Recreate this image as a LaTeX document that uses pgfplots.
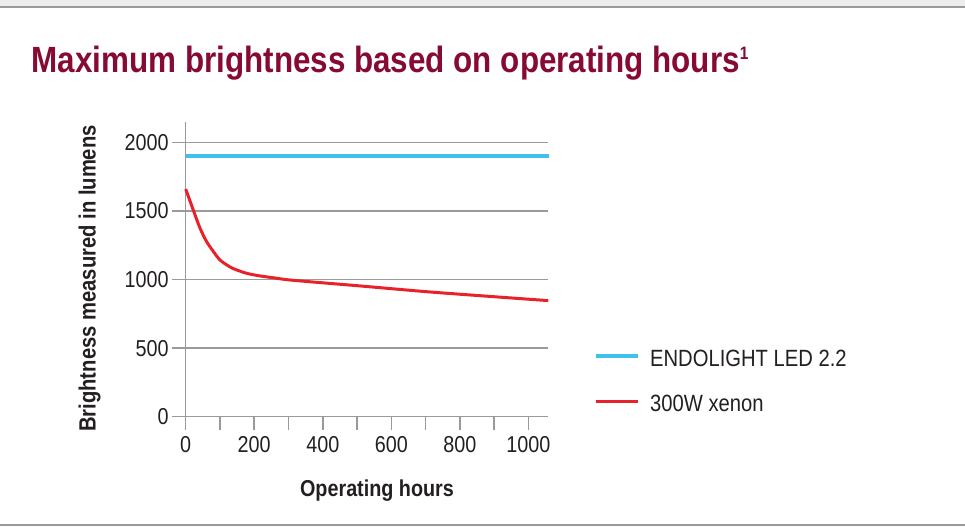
\documentclass[border=0pt]{standalone}
\usepackage{fontspec}
\setmainfont{Liberation Sans}[FakeStretch=0.86]
\usepackage{pgfplots}
\pgfplotsset{compat=1.18}
\definecolor{titlered}{HTML}{870A33}
\definecolor{ledblue}{HTML}{40C0EC}
\definecolor{xenonred}{HTML}{E8212B}
\definecolor{gridgray}{HTML}{9A9A9A}
\definecolor{txt}{HTML}{231F20}
\begin{document}
\begin{tikzpicture}
\useasboundingbox (0pt,0pt) rectangle (965pt,-529pt);
\fill[black!7] (0pt,0pt) rectangle (965pt,-6.3pt);
\draw[gridgray, line width=1.5pt] (0pt,-7pt) -- (965pt,-7pt);
\draw[gridgray, line width=1.8pt] (0pt,-525pt) -- (965pt,-525pt);
\node[anchor=base west, inner sep=0pt, text=titlered, font=\fontsize{36.5}{40}\selectfont\bfseries] at (31.5pt,-72.3pt)
  {Maximum brightness based on operating hours\raisebox{12.8pt}{\fontsize{18}{20}\selectfont 1}};
\begin{axis}[
  at={(185.7pt,-416.7pt)}, anchor=south west,
  scale only axis, width=362.6pt, height=295pt,
  xmin=0, xmax=1058, ymin=0, ymax=2150,
  axis lines*=left,
  axis line style={draw=gridgray, line width=1.5pt},
  xtick={0,200,...,1000}, minor xtick={100,300,...,900},
  ytick={0,500,...,2000},
  tick align=outside, major tick length=13.5pt, minor tick length=13.5pt,
  every tick/.style={draw=gridgray, line width=1.5pt},
  every minor tick/.style={draw=gridgray, line width=1.5pt},
  ymajorgrids,
  major grid style={draw=gridgray, line width=1.5pt},
  /pgf/number format/assume math mode=true,
  /pgf/number format/1000 sep={},
  ticklabel style={font=\fontsize{23}{26}\selectfont, text=txt},
  xticklabel style={yshift=-3pt},
  every axis y label/.style={at={(axis description cs:-0.2482,0.4685)}, rotate=90, anchor=base, inner sep=0pt, font=\fontsize{23.5}{26}\selectfont\bfseries, text=txt},
  every axis x label/.style={at={(axis description cs:0.5276,-0.2688)}, anchor=base, inner sep=0pt, font=\fontsize{23}{26}\selectfont\bfseries, text=txt},
  ylabel={Brightness measured in lumens},
  xlabel={Operating hours},
  legend style={at={(axis description cs:1.1265,0.2305)}, anchor=north west, draw=none, fill=none, inner sep=0pt, outer sep=0pt,
    font=\fontsize{23.5}{26}\selectfont, text=txt,
    nodes={inner sep=0pt, text height=17.6pt, text depth=0pt},
    row sep=27.6pt,
    /tikz/every odd column/.append style={column sep=10.5pt}},
  legend cell align=left,
  legend image code/.code={\draw[#1] (0pt,1.6pt) -- (42pt,1.6pt);},
  clip=false,
]
\addplot[ledblue, line width=3.5pt] coordinates {(0,1900) (1060,1900)};
\addlegendentry{ENDOLIGHT LED 2.2}
\addplot[xenonred, line width=3pt, smooth, tension=0.5] coordinates {
(0,1659) (22,1507) (42,1373) (61,1276) (81,1203) (100,1142) (120,1106) (139,1079)
(178,1045) (217,1026) (266,1009) (314,994) (509,953) (703,911) (897,875) (1058,846)};
\addlegendentry{300W xenon}
\end{axis}
\end{tikzpicture}
\end{document}
